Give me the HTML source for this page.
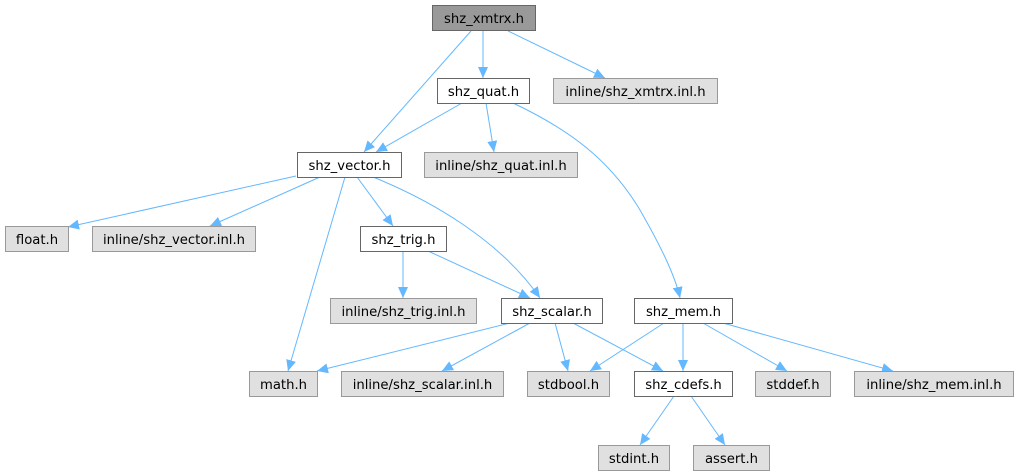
<!DOCTYPE html>
<html><head><meta charset="utf-8"><style>
html,body{margin:0;padding:0;background:#fff;}
svg{display:block;}
text{font-family:"DejaVu Sans","Liberation Sans",sans-serif;font-size:13.2px;fill:#000;}
</style></head><body>
<svg width="1018" height="476" viewBox="0 0 1018 476" xmlns="http://www.w3.org/2000/svg">
<defs>
<marker id="a" markerUnits="userSpaceOnUse" markerWidth="12" markerHeight="10" refX="11" refY="5" orient="auto">
<path d="M0,0 L11,5 L0,10 Z" fill="#63b8ff"/>
</marker>
</defs>
<g stroke="#63b8ff" stroke-width="1" fill="none" marker-end="url(#a)">
<line x1="471" y1="31" x2="364" y2="152"/>
<line x1="483" y1="31" x2="483" y2="78"/>
<line x1="508" y1="31" x2="605" y2="78"/>
<line x1="462" y1="103" x2="376" y2="152"/>
<line x1="486" y1="103" x2="494" y2="152"/>
<path d="M513,103 C570,130 610,160 640,210 C660,245 675,275 680,298"/>
<line x1="296" y1="176" x2="68" y2="227"/>
<line x1="320" y1="177" x2="210" y2="226"/>
<line x1="345" y1="177" x2="288" y2="371"/>
<line x1="357" y1="177" x2="393" y2="226"/>
<path d="M373,177 C430,200 500,240 540,298"/>
<line x1="403" y1="251" x2="403" y2="298"/>
<line x1="428" y1="251" x2="530" y2="298"/>
<line x1="510" y1="323" x2="317" y2="371"/>
<line x1="530" y1="323" x2="442" y2="371"/>
<line x1="555" y1="323" x2="568" y2="371"/>
<line x1="573" y1="323" x2="663" y2="371"/>
<line x1="664" y1="323" x2="590" y2="371"/>
<line x1="683" y1="323" x2="683" y2="371"/>
<line x1="703" y1="323" x2="787" y2="371"/>
<line x1="723" y1="323" x2="893" y2="371"/>
<line x1="674" y1="396" x2="640" y2="445"/>
<line x1="691" y1="396" x2="725" y2="445"/>
</g>
<g stroke-width="1">
<rect x="432.5" y="5.5" width="103" height="25" fill="#999" stroke="#666"/>
<rect x="437.5" y="78.5" width="92" height="25" fill="#fff" stroke="#666"/>
<rect x="553.5" y="78.5" width="164" height="25" fill="#e0e0e0" stroke="#999"/>
<rect x="297.5" y="152.5" width="104" height="25" fill="#fff" stroke="#666"/>
<rect x="424.5" y="152.5" width="153" height="25" fill="#e0e0e0" stroke="#999"/>
<rect x="5.5" y="226.5" width="63" height="25" fill="#e0e0e0" stroke="#999"/>
<rect x="92.5" y="226.5" width="163" height="25" fill="#e0e0e0" stroke="#999"/>
<rect x="360.5" y="226.5" width="86" height="25" fill="#fff" stroke="#666"/>
<rect x="330.5" y="298.5" width="146" height="25" fill="#e0e0e0" stroke="#999"/>
<rect x="501.5" y="298.5" width="101" height="25" fill="#fff" stroke="#666"/>
<rect x="634.5" y="298.5" width="98" height="25" fill="#fff" stroke="#666"/>
<rect x="249.5" y="371.5" width="68" height="25" fill="#e0e0e0" stroke="#999"/>
<rect x="341.5" y="371.5" width="162" height="25" fill="#e0e0e0" stroke="#999"/>
<rect x="527.5" y="371.5" width="82" height="25" fill="#e0e0e0" stroke="#999"/>
<rect x="634.5" y="371.5" width="98" height="25" fill="#fff" stroke="#666"/>
<rect x="755.5" y="371.5" width="75" height="25" fill="#e0e0e0" stroke="#999"/>
<rect x="854.5" y="371.5" width="159" height="25" fill="#e0e0e0" stroke="#999"/>
<rect x="598.5" y="445.5" width="71" height="25" fill="#e0e0e0" stroke="#999"/>
<rect x="693.5" y="445.5" width="76" height="25" fill="#e0e0e0" stroke="#999"/>
</g>
<g text-anchor="middle">
<text x="484" y="23">shz_xmtrx.h</text>
<text x="483.5" y="96">shz_quat.h</text>
<text x="635.5" y="96">inline/shz_xmtrx.inl.h</text>
<text x="349.5" y="170">shz_vector.h</text>
<text x="501" y="170">inline/shz_quat.inl.h</text>
<text x="37" y="244">float.h</text>
<text x="174" y="244">inline/shz_vector.inl.h</text>
<text x="403.5" y="244">shz_trig.h</text>
<text x="403.5" y="316">inline/shz_trig.inl.h</text>
<text x="552" y="316">shz_scalar.h</text>
<text x="683.5" y="316">shz_mem.h</text>
<text x="283.5" y="389">math.h</text>
<text x="422.5" y="389">inline/shz_scalar.inl.h</text>
<text x="568.5" y="389">stdbool.h</text>
<text x="683.5" y="389">shz_cdefs.h</text>
<text x="793" y="389">stddef.h</text>
<text x="934" y="389">inline/shz_mem.inl.h</text>
<text x="634" y="463">stdint.h</text>
<text x="731.5" y="463">assert.h</text>
</g>
</svg>
</body></html>
